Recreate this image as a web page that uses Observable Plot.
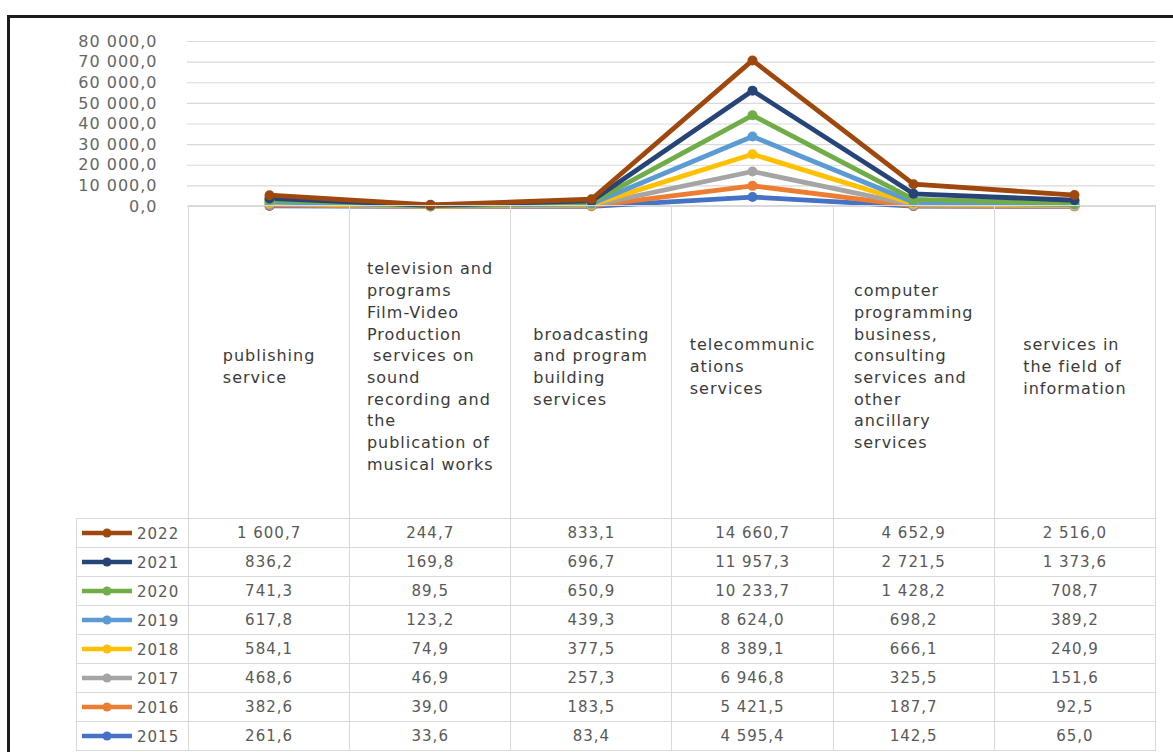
<!DOCTYPE html>
<html>
<head>
<meta charset="utf-8">
<script src="https://cdn.jsdelivr.net/npm/d3@7"></script>
<script src="https://cdn.jsdelivr.net/npm/@observablehq/plot@0.6"></script>
<style>
  html, body { margin: 0; padding: 0; background: #fff; width: 1173px; height: 752px; overflow: hidden; }
  #wrap { position: relative; width: 1173px; height: 752px; font-family: "DejaVu Sans", sans-serif; }
  #chart { position: absolute; left: 0; top: 0; }
  #frame { position: absolute; left: 7px; top: 15px; width: 1200px; height: 800px;
           border-left: 3px solid #1c1c1c; border-top: 3px solid #1c1c1c; pointer-events: none; }
  table { position: absolute; left: 76px; top: 205px; border-collapse: collapse; table-layout: fixed; width: 1079px; }
  td { border: 1px solid #d9d9d9; padding: 0; }
  tr.head td { height: 302px; padding-top: 10px; text-align: center; vertical-align: middle; }
  tr.head td.blank { border-top: none; border-left: none; }
  .hl { display: inline-block; text-align: left; white-space: pre; font-size: 16px; letter-spacing: 1px;
        line-height: 21.7px; color: #3a3a3a; }
  tr.row td { height: 28px; text-align: center; vertical-align: middle; font-size: 15px; letter-spacing: 1px; color: #595959; }
  tr.row td.leg { text-align: left; padding-left: 4px; }
  .leg svg { vertical-align: middle; margin-right: 4px; }
  .leg span { vertical-align: middle; }
</style>
</head>
<body>
<div id="wrap"><div id="chart"></div></div>
<script>
// ---- data ----
const categories = [
  "publishing service",
  "television and programs Film-Video Production services on sound recording and the publication of musical works",
  "broadcasting and program building services",
  "telecommunications services",
  "computer programming business, consulting services and other ancillary services",
  "services in the field of information"
];
const categoryLines = [
  ["publishing", "service"],
  ["television and", "programs", "Film-Video", "Production", " services on", "sound", "recording and", "the", "publication of", "musical works"],
  ["broadcasting", "and program", "building", "services"],
  ["telecommunic", "ations", "services"],
  ["computer", "programming", "business,", "consulting", "services and", "other", "ancillary", "services"],
  ["services in", "the field of", "information"]
];
const years = [2015, 2016, 2017, 2018, 2019, 2020, 2021, 2022];
const v2015 = [261.6, 33.6, 83.4, 4595.4, 142.5, 65.0];
const v2016 = [382.6, 39.0, 183.5, 5421.5, 187.7, 92.5];
const v2017 = [468.6, 46.9, 257.3, 6946.8, 325.5, 151.6];
const v2018 = [584.1, 74.9, 377.5, 8389.1, 666.1, 240.9];
const v2019 = [617.8, 123.2, 439.3, 8624.0, 698.2, 389.2];
const v2020 = [741.3, 89.5, 650.9, 10233.7, 1428.2, 708.7];
const v2021 = [836.2, 169.8, 696.7, 11957.3, 2721.5, 1373.6];
const v2022 = [1600.7, 244.7, 833.1, 14660.7, 4652.9, 2516.0];
const yTicks = [0, 10000, 20000, 30000, 40000, 50000, 60000, 70000, 80000];
const colors = ["#4472C4", "#ED7D31", "#A5A5A5", "#FFC000", "#5B9BD5", "#70AD47", "#264478", "#9E480E"];

const seriesByYear = {2015: v2015, 2016: v2016, 2017: v2017, 2018: v2018, 2019: v2019, 2020: v2020, 2021: v2021, 2022: v2022};
const rows = [];
years.forEach(y => categories.forEach((c, i) => rows.push({year: String(y), cat: c, value: seriesByYear[y][i]})));

const fmt = d3.formatLocale({decimal: ",", thousands: " ", grouping: [3]}).format(",.1f");

// ---- chart ----
const plot = Plot.plot({
  width: 1173,
  height: 210,
  marginLeft: 187,
  marginRight: 18,
  marginTop: 41,
  marginBottom: 4,
  style: {fontFamily: "DejaVu Sans, sans-serif", fontSize: "16px", letterSpacing: "1px", background: "transparent", overflow: "visible"},
  x: {type: "point", domain: categories, padding: 0.5, axis: null},
  y: {domain: [0, 80000], axis: null},
  color: {type: "ordinal", domain: years.map(String), range: colors},
  marks: [
    Plot.gridY(yTicks, {stroke: "#d9d9d9", strokeOpacity: 1, strokeWidth: 1.2}),
    Plot.axisY({ticks: yTicks, tickFormat: fmt, tickSize: 0, tickPadding: 30, fill: "#666", fontSize: 16, label: null}),
    Plot.lineY(rows, Plot.stackY2({x: "cat", y: "value", z: "year", stroke: "year", strokeWidth: 4.8, strokeLinejoin: "round", strokeLinecap: "round"})),
    Plot.dot(rows, Plot.stackY2({x: "cat", y: "value", z: "year", fill: "year", r: 5}))
  ]
});
document.getElementById("chart").appendChild(plot);

// ---- data table ----
const table = d3.select("#wrap").append("table");
const cg = table.append("colgroup");
cg.append("col").style("width", "112px");
categories.forEach(() => cg.append("col").style("width", "161.17px"));
const hr = table.append("tr").attr("class", "head");
hr.append("td").attr("class", "blank");
categoryLines.forEach(lines => hr.append("td").append("div").attr("class", "hl").text(lines.join("\n")));

years.slice().reverse().forEach(y => {
  const tr = table.append("tr").attr("class", "row");
  const leg = tr.append("td").attr("class", "leg");
  const sw = leg.append("svg").attr("width", 52).attr("height", 12);
  const col = colors[years.indexOf(y)];
  sw.append("line").attr("x1", 1).attr("x2", 51).attr("y1", 6).attr("y2", 6)
    .attr("stroke", col).attr("stroke-width", 4.5);
  sw.append("circle").attr("cx", 26).attr("cy", 6).attr("r", 4.5).attr("fill", col);
  leg.append("span").text(String(y));
  seriesByYear[y].forEach(v => tr.append("td").text(fmt(v)));
});

d3.select("#wrap").append("div").attr("id", "frame");
</script>
</body>
</html>
